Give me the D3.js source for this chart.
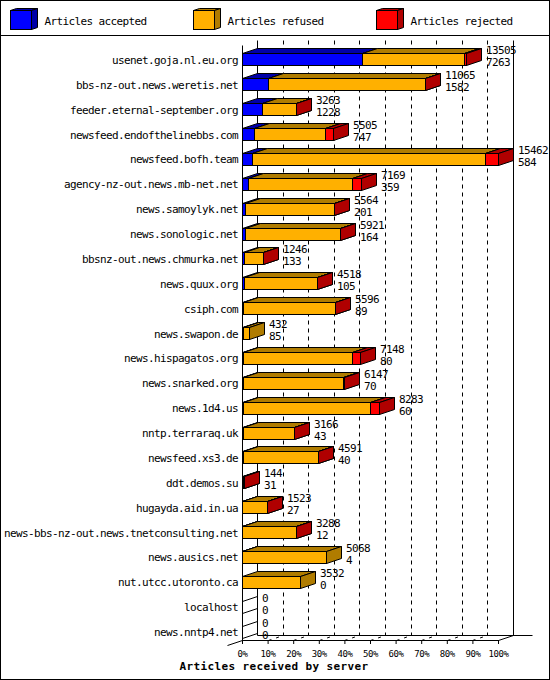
<!DOCTYPE html>
<html><head><meta charset="utf-8">
<script src="https://cdn.jsdelivr.net/npm/d3@7"></script>
<style>
body{margin:0;background:#fff}
svg{display:block}
text{font-family:"DejaVu Sans Mono",monospace}
</style>
</head><body>
<script>
const servers = [
  "usenet.goja.nl.eu.org","bbs-nz-out.news.weretis.net","feeder.eternal-september.org",
  "newsfeed.endofthelinebbs.com","newsfeed.bofh.team","agency-nz-out.news.mb-net.net",
  "news.samoylyk.net","news.sonologic.net","bbsnz-out.news.chmurka.net","news.quux.org",
  "csiph.com","news.swapon.de","news.hispagatos.org","news.snarked.org","news.1d4.us",
  "nntp.terraraq.uk","newsfeed.xs3.de","ddt.demos.su","hugayda.aid.in.ua",
  "news-bbs-nz-out.news.tnetconsulting.net","news.ausics.net","nut.utcc.utoronto.ca",
  "localhost","news.nntp4.net"
];
const received = [13505,11065,3263,5505,15462,7169,5564,5921,1246,4518,5596,432,7148,6147,8283,3166,4591,144,1523,3288,5068,3532,0,0];
const accepted = [7263,1582,1228,747,584,359,201,164,133,105,89,85,80,70,60,43,40,31,27,12,4,0,0,0];
const refused  = [6142,9458,2023,4275,14118,6307,5345,5748,1107,4399,5500,347,6568,6056,7663,3118,4540,110,1492,3274,5064,3532,0,0];
const rejected = [100,25,12,483,760,503,18,9,6,14,7,0,500,21,560,5,11,3,4,2,0,0,0,0];
const seriesNames = ["Articles accepted","Articles refused","Articles rejected"];
const tickLabels = ["0%","10%","20%","30%","40%","50%","60%","70%","80%","90%","100%"];
const axisTitle = "Articles received by server";

const keys = ["accepted","refused","rejected"];
const front = {accepted:"#0000ff", refused:"#ffb000", rejected:"#ff0000"};
const dark  = {accepted:"#0000a8", refused:"#b07c00", rejected:"#b00000"};

const table = servers.map((s,i)=>({server:s, received:received[i], accepted:accepted[i], refused:refused[i], rejected:rejected[i]}));
const maxTotal = d3.max(received);
const pct = v => v / maxTotal * 100;

const DX = 15, DY = 5, BH = 6;
const x = d3.scaleLinear().domain([0,100]).range([242,498]);
const y = d3.scaleBand().domain(servers).range([47,644]);
const cy = s => y(s) + y.bandwidth()/2;

const svg = d3.select("body").append("svg").attr("width",550).attr("height",680);
const g = svg.append("g").attr("transform","translate(0.5,0.5)");

// frame
g.append("rect").attr("x",0).attr("y",0).attr("width",549).attr("height",679).attr("fill","none").attr("stroke","#000");
g.append("line").attr("x1",0).attr("x2",549).attr("y1",35).attr("y2",35).attr("stroke","#000");

// legend
seriesNames.forEach((name,i)=>{
  const k = keys[i];
  const bx = 10 + i*183, by = 10, bw = 21, bh = 19, dx = 6, dy = 2;
  g.append("polygon").attr("points",[[bx,by],[bx+bw,by],[bx+bw+dx,by-dy],[bx+dx,by-dy]].join(" "))
    .attr("fill",dark[k]).attr("stroke","#000");
  g.append("polygon").attr("points",[[bx+bw,by],[bx+bw+dx,by-dy],[bx+bw+dx,by+bh-dy],[bx+bw,by+bh]].join(" "))
    .attr("fill",dark[k]).attr("stroke","#000");
  g.append("rect").attr("x",bx).attr("y",by).attr("width",bw).attr("height",bh).attr("fill",front[k]).attr("stroke","#000");
  svg.append("text").attr("x",bx+34.5).attr("y",24.5).attr("font-size",11).attr("letter-spacing",-0.62)
    .text(name);
});

// grid and walls
const xr = v => Math.round(x(v));
const topBack = 40, botBack = 635, topFront = 45, botFront = 640;
d3.range(10,100,10).forEach(p=>{
  g.append("line").attr("x1",xr(p)+DX).attr("x2",xr(p)+DX).attr("y1",topBack).attr("y2",botBack)
    .attr("stroke","#000").attr("stroke-dasharray","4,4");
  g.append("line").attr("x1",xr(p)).attr("y1",botFront).attr("x2",xr(p)+DX).attr("y2",botBack)
    .attr("stroke","#000").attr("stroke-dasharray","3,5");
});
g.append("line").attr("x1",xr(0)+DX).attr("x2",xr(0)+DX).attr("y1",topBack).attr("y2",botBack).attr("stroke","#000");
g.append("line").attr("x1",xr(100)+DX).attr("x2",xr(100)+DX).attr("y1",topBack).attr("y2",botBack).attr("stroke","#000");
g.append("line").attr("x1",xr(0)+DX).attr("x2",xr(100)+DX+19).attr("y1",botBack).attr("y2",botBack).attr("stroke","#000");
g.append("line").attr("x1",xr(100)).attr("y1",botFront).attr("x2",xr(100)+DX).attr("y2",botBack).attr("stroke","#000");
g.append("line").attr("x1",xr(0)-DX).attr("y1",botFront+5).attr("x2",xr(0)).attr("y2",botFront).attr("stroke","#000");
g.append("line").attr("x1",xr(0)).attr("x2",xr(0)).attr("y1",topFront).attr("y2",botFront).attr("stroke","#000");

// bars
function box(xa, xb, c, k){
  const t = Math.round(c - BH), b = Math.round(c + BH);
  const bg = g.append("g");
  bg.append("polygon").attr("points",[[xa,t],[xb,t],[xb+DX,t-DY],[xa+DX,t-DY]].join(" "))
    .attr("fill",dark[k]).attr("stroke","#000");
  bg.append("polygon").attr("points",[[xb,t],[xb+DX,t-DY],[xb+DX,b-DY],[xb,b]].join(" "))
    .attr("fill",dark[k]).attr("stroke","#000");
  bg.append("rect").attr("x",xa).attr("y",t).attr("width",xb-xa).attr("height",b-t)
    .attr("fill",front[k]).attr("stroke","#000");
}
const stacked = d3.stack().keys(keys)(table);
table.forEach((row,i)=>{
  const c = cy(row.server);
  if (row.received === 0) {
    const t = Math.round(c - BH), b = Math.round(c + BH), xa = xr(0);
    g.append("polygon").attr("points",[[xa,t],[xa+DX,t-DY],[xa+DX,b-DY],[xa,b]].join(" "))
      .attr("fill","none").attr("stroke","#000");
  } else {
    stacked.forEach(layer=>{
      const d = layer[i];
      if (d[1] - d[0] <= 0) return;
      box(xr(pct(d[0])), xr(pct(d[1])), c, layer.key);
    });
  }
  const xe = xr(pct(row.received)) + DX + 5;
  svg.append("text").attr("x",xe).attr("y",Math.round(c-BH)+0.5).attr("font-size",11).attr("letter-spacing",-0.62).text(row.received);
  svg.append("text").attr("x",xe).attr("y",Math.round(c+BH)+0.5).attr("font-size",11).attr("letter-spacing",-0.62).text(row.accepted);
});

// category axis
const yAxis = svg.append("g").attr("transform","translate(242,0)")
  .call(d3.axisLeft(y).tickSize(0).tickPadding(4));
yAxis.select(".domain").remove();
yAxis.selectAll("text").attr("font-family","DejaVu Sans Mono").attr("font-size",11)
  .attr("letter-spacing",-0.62).attr("fill","#000").attr("dy",null).attr("y",4.5);

// value axis
const xAxis = svg.append("g").attr("transform","translate(0,640)")
  .call(d3.axisBottom(x).tickValues(d3.range(0,101,10)).tickFormat((d,i)=>tickLabels[i]).tickSize(4).tickSizeOuter(0));
xAxis.select(".domain").attr("stroke","#000");
xAxis.selectAll("line").attr("stroke","#000");
xAxis.selectAll("text").attr("font-family","DejaVu Sans Mono").attr("font-size",9)
  .attr("letter-spacing",-0.42).attr("fill","#000").attr("dy",null).attr("y",17);

svg.append("text").attr("x",274).attr("y",670).attr("text-anchor","middle")
  .attr("font-size",11).attr("font-weight","bold").attr("letter-spacing",0.38).text(axisTitle);
</script>
</body></html>
